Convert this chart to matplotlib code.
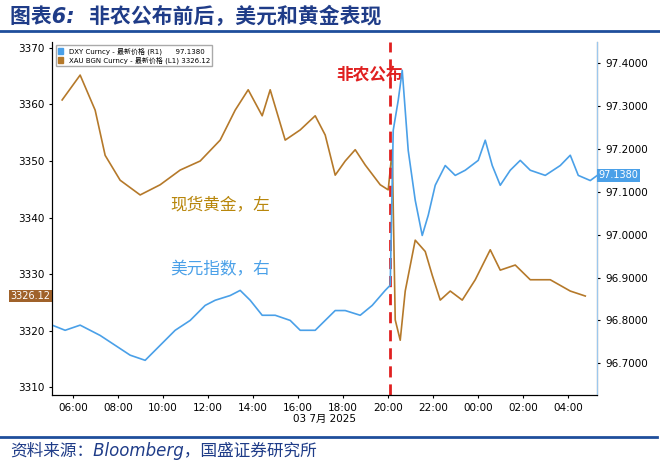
import matplotlib
matplotlib.use("Agg")
import matplotlib.pyplot as plt
import numpy as np
from matplotlib.patches import Patch

plt.rcParams['font.family'] = ['DejaVu Sans', 'Noto Sans CJK SC']

gold_px = [62,80,95,105,120,140,160,180,200,220,235,248,262,270,285,300,315,325,335,345,355,365,380,388,392,395,400,405,415,425,432,440,450,462,475,490,500,515,530,550,570,585]
gold = [3360.8,3365.2,3359,3351,3346.6,3344,3345.8,3348.4,3350,3353.7,3359,3362.6,3358,3362.6,3353.7,3355.5,3358,3354.6,3347.5,3350,3352,3349.3,3345.8,3344.9,3352,3321.9,3318.3,3327,3336,3334,3329.8,3325.4,3327,3325.4,3329,3334.3,3330.7,3331.6,3329,3329,3327,3326.12]
dxy_px = [52,65,80,100,115,130,145,160,175,190,205,215,230,240,250,262,275,290,300,315,325,335,345,360,372,385,390,393,398,402,408,415,422,428,435,445,455,465,478,485,492,500,510,520,530,545,560,570,578,590,597]
dxy = [96.789,96.777,96.789,96.765,96.742,96.719,96.707,96.742,96.777,96.800,96.835,96.847,96.858,96.870,96.847,96.812,96.812,96.800,96.777,96.777,96.800,96.823,96.823,96.812,96.835,96.870,96.882,97.243,97.313,97.383,97.196,97.080,96.998,97.045,97.115,97.161,97.138,97.150,97.173,97.220,97.161,97.115,97.150,97.173,97.150,97.138,97.161,97.185,97.138,97.126,97.138]
gold_t = [6+(x-73)/22.5 for x in gold_px]
dxy_t = [6+(x-73)/22.5 for x in dxy_px]
xticks = list(range(6, 29, 2))
xlabels = ["%02d:00" % (h % 24) for h in xticks]
nfp_time = 20.09

fig = plt.figure(figsize=(6.6, 4.61), dpi=100)
fig.text(0.015, 0.965, "图表6:  非农公布前后，美元和黄金表现", fontsize=15, color="#1f3c88",
         style="italic", fontweight="bold", va="center")
fig.add_artist(plt.Line2D([0.0, 1.0], [0.932, 0.932], color="#1f4e9c", lw=2))
fig.add_artist(plt.Line2D([0.0, 0.995], [0.052, 0.052], color="#1f4e9c", lw=2))
fig.text(0.015, 0.022, "资料来源：Bloomberg，国盛证券研究所", fontsize=12, color="#1f3c88",
         style="italic", va="center")

ax = fig.add_axes([0.079, 0.143, 0.826, 0.766])
ax.plot(gold_t, gold, color="#b5792a", lw=1.2)
ax.set_xlim(5.067, 29.29)
ax.set_ylim(3308.6, 3371.06)
ax.set_yticks(range(3310, 3371, 10))
ax.set_xticks(xticks)
ax.set_xticklabels(xlabels)
ax.tick_params(labelsize=7.5, length=2)
ax.set_xlabel("03 7月 2025", fontsize=7.5, labelpad=1)
ax.spines["top"].set_visible(False)
ax2 = ax.twinx()
ax2.plot(dxy_t, dxy, color="#4aa0e8", lw=1.2)
ax2.set_ylim(96.626, 97.449)
ax2.set_yticks(np.arange(96.7, 97.41, 0.1))
ax2.yaxis.set_major_formatter(matplotlib.ticker.FormatStrFormatter("%.4f"))
ax2.tick_params(labelsize=7.5, length=2)
ax2.spines["top"].set_visible(False)
ax2.spines["right"].set_color("#9cc8ee")

ax.axvline(nfp_time, color="#e02020", lw=2, ls=(0, (4, 2.5)))
ax.text(17.7, 3364.5, "非农公布", color="#e02020", fontsize=12, fontweight="bold")
ax.text(10.3, 3341.5, "现货黄金，左", color="#b8860b", fontsize=12)
ax.text(10.3, 3330, "美元指数，右", color="#4aa0e8", fontsize=12)
ax.text(5.0, gold[-1], "%.2f" % gold[-1], color="white", fontsize=7, ha="right", va="center",
        bbox=dict(boxstyle="square,pad=0.15", fc="#a0622a", ec="none"))
ax2.text(29.35, dxy[-1], "%.4f" % dxy[-1], color="white", fontsize=7, ha="left", va="center",
         bbox=dict(boxstyle="square,pad=0.15", fc="#4aa0e8", ec="none"))

ax.legend(handles=[Patch(color="#4aa0e8", label="DXY Curncy - 最新价格 (R1)      97.1380"),
                   Patch(color="#b5792a", label="XAU BGN Curncy - 最新价格 (L1) 3326.12")],
          loc="upper left", fontsize=5, handlelength=0.8, handleheight=0.8,
          borderpad=0.3, labelspacing=0.2, framealpha=1, edgecolor="#aaaaaa", fancybox=False)
fig.savefig("out.png", dpi=100)
